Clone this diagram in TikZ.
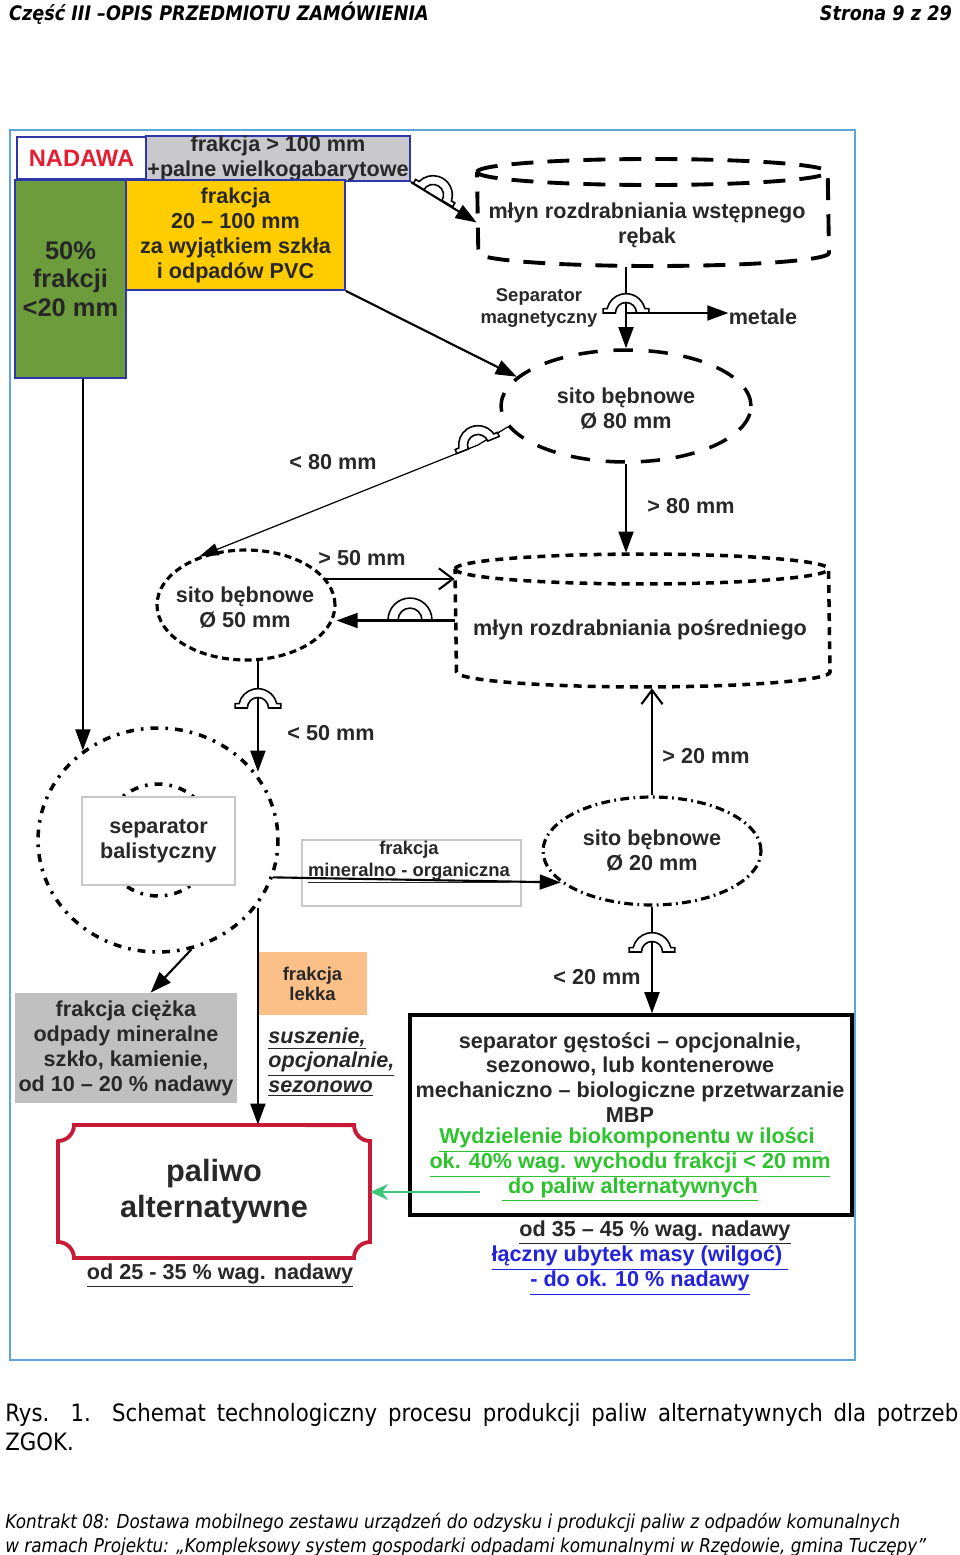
\documentclass[tikz,border=0pt]{standalone}
\usepackage{fontspec}
\setmainfont{Liberation Sans}
\newfontfamily\stronafont[FakeStretch=0.88]{DejaVu Sans}
\newfontfamily\podpisfont[FakeStretch=0.89]{DejaVu Sans}
\usetikzlibrary{arrows.meta,calc,shapes.geometric}
\definecolor{RamkaClr}{RGB}{95,165,215}
\definecolor{ObwodClr}{RGB}{45,55,170}
\definecolor{NadawaClr}{RGB}{228,30,50}
\definecolor{SzaryClr}{RGB}{200,200,205}
\definecolor{ZielonyClr}{RGB}{108,156,60}
\definecolor{ZoltyClr}{RGB}{255,204,0}
\definecolor{LekkaClr}{RGB}{250,192,135}
\definecolor{CiezkaClr}{RGB}{192,192,192}
\definecolor{PaliwoClr}{RGB}{200,25,55}
\definecolor{BioClr}{RGB}{45,195,45}
\definecolor{UbytekClr}{RGB}{35,35,220}
\definecolor{ZwrotClr}{RGB}{60,200,120}
\definecolor{TekstClr}{RGB}{40,40,40}
\definecolor{CienClr}{RGB}{200,200,200}

\tikzset{
  txt/.style={font=\bfseries\fontsize{12.3}{14.2}\selectfont,text=TekstClr,align=center,inner sep=0pt},
  drobny/.style={txt,font=\bfseries\fontsize{10.5}{12.4}\selectfont},
  pole/.style={txt,draw=ObwodClr,line width=1.1pt},
  ramka/.style={txt,draw=CienClr,line width=0.6pt,fill=white},
  strz/.style={line width=1.2pt,-{Triangle[length=12pt,width=8.5pt]}},
  strzo/.style={line width=1.2pt,-{Straight Barb[length=8pt,width=12pt]}},
  cienka/.style={line width=0.7pt,-{Triangle[length=11pt,width=7pt]}},
  zwrot/.style={ZwrotClr,line width=1.2pt,-{Stealth[length=10pt,width=9pt]}},
  obszar/.style={inner sep=0pt},
  sito/.style={ellipse,draw,fill=white,inner sep=0pt},
  magnes/.pic={
    \draw[fill=white,line width=0.9pt]
      (-13pt,0pt) -- (-6pt,0pt) arc[start angle=180,end angle=0,radius=6pt]
      -- (13pt,0pt) -- (13pt,2.5pt) -- (10.7pt,2.5pt)
      arc[start angle=13.1,end angle=166.9,radius=11pt]
      -- (-13pt,2.5pt) -- cycle;
  },
  magnes2/.pic={
    \draw[line width=0.9pt] (-12.5pt,0pt) arc[start angle=180,end angle=0,radius=12.5pt];
    \draw[line width=0.9pt] (-6.8pt,0pt) arc[start angle=180,end angle=0,radius=6.8pt];
  }
}

\begin{document}
\begin{tikzpicture}[x=0.02cm,y=-0.02cm]
\useasboundingbox[fill=white] (0,0) rectangle (960,1555);

\node[anchor=base west,font=\stronafont\bfseries\itshape\fontsize{11.4}{13}\selectfont] (naglowek) at (3,20) {Część III –OPIS PRZEDMIOTU ZAMÓWIENIA};
\node[anchor=base east,font=\stronafont\bfseries\itshape\fontsize{11.4}{13}\selectfont] (strona) at (958,20) {Strona 9 z 29};

\draw[RamkaClr,line width=1.5pt] (10,130) rectangle (855,1360);

\node[pole,fill=white,text=NadawaClr,font=\bfseries\fontsize{13.5}{15}\selectfont,minimum width=2.58cm,minimum height=0.84cm] (nadawa) at (81.5,158) {NADAWA};
\node[pole,fill=SzaryClr,minimum width=5.28cm,minimum height=0.86cm] (gruba) at (278,158.5) {frakcja > 100 mm\\+palne wielkogabarytowe};
\node[pole,fill=ZielonyClr,text=black!85,font=\bfseries\fontsize{14.5}{16.2}\selectfont,minimum width=2.22cm,minimum height=3.96cm] (drobna) at (70.5,279) {50\%\\frakcji\\<20 mm};
\node[pole,fill=ZoltyClr,minimum width=4.38cm,minimum height=2.2cm] (srednia) at (235.5,235) {frakcja\\20 – 100 mm\\za wyjątkiem szkła\\i odpadów PVC};

\node[obszar,minimum width=7.04cm,minimum height=2.18cm] (mlynA) at (653,212.5) {};
\draw[line width=2.2pt,dash pattern=on 12.5pt off 8pt,fill=white] (477,172)
  arc[start angle=180,end angle=0,x radius=99.8pt,y radius=7.4pt] -- (829,253)
  arc[start angle=0,end angle=-180,x radius=99.8pt,y radius=7.4pt] -- cycle;
\draw[line width=2.2pt,dash pattern=on 12.5pt off 8pt] (477,172)
  arc[start angle=180,end angle=360,x radius=99.8pt,y radius=7.4pt];

\node[sito,line width=2pt,dash pattern=on 11pt off 9pt,minimum width=5cm,minimum height=2.24cm] (sito80) at (626,406) {};

\node[obszar,minimum width=7.5cm,minimum height=2.7cm] (mlynB) at (642.5,620.5) {};
\draw[line width=2pt,dash pattern=on 4.5pt off 3.5pt,fill=white] (455,569)
  arc[start angle=180,end angle=0,x radius=106.3pt,y radius=8.5pt] -- (830,672)
  arc[start angle=0,end angle=-180,x radius=106.3pt,y radius=8.5pt] -- cycle;
\draw[line width=2pt,dash pattern=on 4.5pt off 3.5pt] (455,569)
  arc[start angle=180,end angle=360,x radius=106.3pt,y radius=8.5pt];

\node[sito,line width=1.8pt,dash pattern=on 4pt off 2.5pt,minimum width=3.56cm,minimum height=2.2cm] (sito50) at (246,605) {};
\node[sito,line width=2pt,dash pattern=on 1.5pt off 4pt on 4.5pt off 4pt,minimum width=4.8cm,minimum height=4.48cm] (balist) at (158,840) {};
\node[circle,draw,line width=2pt,dash pattern=on 1.5pt off 4pt on 4.5pt off 4pt,minimum size=2.24cm,inner sep=0pt] (balin) at (158,840) {};
\node[ramka,minimum width=3.06cm,minimum height=1.76cm] (sepbal) at (158.5,841) {separator\\balistyczny};
\node[sito,line width=1.8pt,dash pattern=on 5pt off 2.5pt on 1pt off 2.5pt,minimum width=4.36cm,minimum height=2.16cm] (sito20) at (652,851) {};
\node[ramka,minimum width=4.38cm,minimum height=1.32cm] (frakmin) at (411.5,873) {};
\node[draw=black,line width=2pt,fill=white,minimum width=8.84cm,minimum height=4cm] (sepgest) at (631,1115) {};
\node[txt,fill=LekkaClr,font=\bfseries\fontsize{10.5}{11.4}\selectfont,minimum width=2.18cm,minimum height=1.26cm] (lekka) at (312.5,983.5) {frakcja\\lekka};
\node[txt,fill=CiezkaClr,minimum width=4.44cm,minimum height=2.2cm] (ciezka) at (126,1048) {frakcja ciężka\\odpady mineralne\\szkło, kamienie,\\od 10 – 20 \% nadawy};

\draw[PaliwoClr,line width=2.2pt,fill=white] (58,1141) -- (58,1242)
  arc[start angle=90,end angle=0,radius=9.07pt] -- (354,1258)
  arc[start angle=180,end angle=90,radius=9.07pt] -- (370,1141)
  arc[start angle=270,end angle=180,radius=9.07pt] -- (74,1125)
  arc[start angle=0,end angle=-90,radius=9.07pt] -- cycle;
\node[txt,font=\bfseries\fontsize{17.5}{20}\selectfont,minimum width=6.24cm,minimum height=2.66cm] (paliwo) at (214,1191.5) {paliwo\\alternatywne};

\coordinate (sepmag) at (626,313);
\coordinate (m80) at (478,445);
\coordinate (m50) at (sito50.-78 |- 0,708);
\coordinate (m20) at (sito20.south |- 0,952);
\coordinate (bioout) at (480,1192);

\node[txt] (metale) at (763,317) {metale};

\draw[strz] (gruba.south east) -- ($(mlynA.west)+(0,10)$);
\draw[strz] (sito80.north |- mlynA.south) -- (sito80.north);
\draw[strz] (sepmag) -- (sepmag -| metale.west);
\draw[strz] (srednia.south east) -- (sito80.165);
\draw[cienka] (sito80.190) -- (m80) -- (sito50.134);
\draw[strz] (sito80.south) -- (sito80.south |- mlynB.north);
\draw[strzo] (sito50.18) -- (sito50.18 -| mlynB.west);
\draw[strz] (mlynB.west) -- (mlynB.west -| sito50.east);
\draw[strz] (sito50.-78) -- (sito50.-78 |- balist.35);
\draw[strz] (drobna.south -| balist.130) -- (balist.130);
\draw[strz] (balist.-18) -- (sito20.199);
\draw[strzo] (sito20.north) -- (sito20.north |- mlynB.south);
\draw[strz] (sito20.south) -- (sito20.south |- sepgest.north);
\draw[strz] (balist.-73) -- (ciezka.66);
\draw[strz] (sito50.-78 |- balist.-35) -- (sito50.-78 |- paliwo.north);
\draw[zwrot] (bioout) -- (bioout -| paliwo.east);

\pic[rotate=-31] at (433,195) {magnes};
\pic at (sepmag) {magnes};
\pic[rotate=22] at (m80) {magnes};
\pic at (410,620) {magnes2};
\pic at (m50) {magnes};
\pic at (m20) {magnes};

\node[txt] (mlynAt) at (647,225.5) {młyn rozdrabniania wstępnego\\rębak};
\node[drobny] (sepmagt) at (539,308) {Separator\\magnetyczny};
\node[txt] (sito80t) at (626,408.5) {sito bębnowe\\Ø 80 mm};
\node[txt] (mniej80) at (333,462) {< 80 mm};
\node[txt] (wiecej80) at (691,506) {> 80 mm};
\node[txt] (mlynBt) at (640,630) {młyn rozdrabniania pośredniego};
\node[txt] (sito50t) at (245,607.5) {sito bębnowe\\Ø 50 mm};
\node[txt] (wiecej50) at (362,558) {> 50 mm};
\node[txt] (mniej50) at (331,733) {< 50 mm};
\node[drobny] (frakmint) at (409,862.5) {frakcja\\\underline{mineralno - organiczna}};
\node[txt] (sito20t) at (652,850.5) {sito bębnowe\\Ø 20 mm};
\node[txt] (wiecej20) at (706,756) {> 20 mm};
\node[txt] (mniej20) at (597,977) {< 20 mm};
\node[txt] (gestt) at (630,1077.5) {separator gęstości – opcjonalnie,\\sezonowo, lub kontenerowe\\mechaniczno – biologiczne przetwarzanie\\MBP};
\node[txt,text=BioClr] (bio) at (630,1165) {\underline{Wydzielenie biokomponentu w ilości\ }\\\underline{ok. 40\% wag. wychodu frakcji < 20 mm}\\\underline{\ do paliw alternatywnych}};
\node[txt] (udzial) at (655,1233) {\underline{od 35 – 45 \% wag. nadawy}};
\node[txt,text=UbytekClr] (ubytek) at (640,1270.5) {\underline{łączny ubytek masy (wilgoć)\ }\\\underline{- do ok. 10 \% nadawy}};
\node[txt,font=\bfseries\itshape\fontsize{12.3}{14.2}\selectfont,align=left,anchor=west] (suszenie) at (268,1062) {\underline{suszenie,}\\\underline{opcjonalnie,}\\\underline{sezonowo}};
\node[txt] (udzialpal) at (220,1276) {\underline{od 25 - 35 \% wag. nadawy}};

\node[anchor=north west,inner sep=0pt,text width=19.06cm,align=justify,font=\podpisfont\fontsize{13.6}{16.4}\selectfont] (podpis) at (5,1403) {Rys. 1. Schemat technologiczny procesu produkcji paliw alternatywnych dla potrzeb\linebreak ZGOK.};
\node[anchor=north west,inner sep=0pt,align=left,font=\stronafont\itshape\fontsize{10.9}{13.6}\selectfont] (stopka) at (5,1513) {Kontrakt 08: Dostawa mobilnego zestawu urządzeń do odzysku i produkcji paliw z odpadów komunalnych\\w ramach Projektu: „Kompleksowy system gospodarki odpadami komunalnymi w Rzędowie, gmina Tuczępy”};
\end{tikzpicture}
\end{document}
